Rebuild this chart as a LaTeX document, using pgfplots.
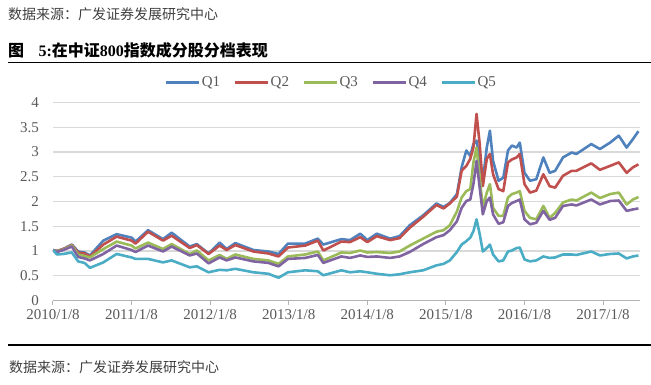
\documentclass[border=0pt]{standalone}
\usepackage{pgfplots}
\pgfplotsset{compat=1.18}
\usepackage{pgfplotstable}
\usepackage{fontspec}
\setmainfont{Liberation Serif}
\newfontfamily\cjk{Noto Sans CJK SC}
\definecolor{c1}{HTML}{4F81BD}
\definecolor{c2}{HTML}{C0504D}
\definecolor{c3}{HTML}{9BBB59}
\definecolor{c4}{HTML}{8064A2}
\definecolor{c5}{HTML}{4BACC6}
\definecolor{tk}{HTML}{595959}
\definecolor{gridc}{HTML}{D9D9D9}
\definecolor{src}{HTML}{404040}

\pgfplotstableread{
x q1 q2 q3 q4 q5
0.00 1.02 1.02 1.02 1.02 1.02
0.05 1.00 1.00 0.99 0.98 0.93
0.13 1.04 1.04 1.03 1.02 0.94
0.24 1.13 1.12 1.11 1.09 0.97
0.32 0.99 0.97 0.93 0.88 0.79
0.40 0.97 0.95 0.90 0.85 0.76
0.47 0.91 0.89 0.87 0.81 0.66
0.64 1.21 1.13 1.04 0.94 0.77
0.81 1.34 1.29 1.19 1.11 0.94
1.00 1.27 1.21 1.11 1.02 0.87
1.05 1.19 1.15 1.05 0.98 0.84
1.21 1.42 1.39 1.17 1.11 0.84
1.40 1.24 1.21 1.04 0.99 0.77
1.51 1.37 1.31 1.14 1.09 0.81
1.74 1.09 1.06 0.94 0.91 0.67
1.83 1.14 1.12 1.01 0.95 0.69
1.98 0.95 0.94 0.81 0.75 0.57
2.12 1.17 1.11 0.92 0.87 0.62
2.21 1.04 1.02 0.84 0.81 0.61
2.32 1.16 1.12 0.93 0.87 0.64
2.55 1.02 0.99 0.84 0.79 0.57
2.74 0.99 0.95 0.81 0.76 0.54
2.87 0.94 0.89 0.74 0.69 0.46
2.99 1.15 1.07 0.89 0.84 0.57
3.21 1.15 1.11 0.93 0.86 0.61
3.37 1.25 1.21 0.99 0.92 0.59
3.44 1.13 1.01 0.81 0.76 0.51
3.67 1.24 1.19 0.97 0.89 0.61
3.78 1.22 1.18 0.96 0.86 0.57
3.91 1.35 1.28 1.01 0.91 0.59
4.00 1.22 1.18 0.97 0.88 0.57
4.12 1.35 1.30 0.98 0.89 0.54
4.29 1.25 1.22 0.96 0.86 0.51
4.41 1.30 1.26 0.99 0.89 0.53
4.54 1.52 1.47 1.11 0.98 0.57
4.71 1.72 1.69 1.25 1.14 0.61
4.88 1.96 1.93 1.39 1.28 0.71
4.97 1.89 1.86 1.42 1.32 0.74
5.05 1.97 1.96 1.52 1.42 0.81
5.14 2.15 2.10 1.80 1.60 0.98
5.20 2.69 2.62 2.08 1.87 1.13
5.26 3.03 2.72 2.21 2.01 1.20
5.31 2.92 2.86 2.25 2.04 1.27
5.35 3.16 3.09 2.79 2.35 1.40
5.39 3.23 3.77 3.09 2.82 1.64
5.43 2.82 3.16 2.48 2.28 1.34
5.47 2.42 2.31 1.87 1.74 0.99
5.52 3.09 2.86 2.18 2.01 1.06
5.56 3.43 2.96 2.35 2.08 1.13
5.60 2.82 2.55 1.87 1.74 0.93
5.67 2.42 2.25 1.71 1.55 0.79
5.73 2.48 2.21 1.71 1.58 0.81
5.79 3.03 2.79 2.08 1.91 0.99
5.84 3.13 2.85 2.15 1.97 1.01
5.90 3.09 2.89 2.18 2.01 1.06
5.94 3.19 2.96 2.21 2.04 1.07
6.00 2.58 2.35 1.81 1.64 0.83
6.07 2.42 2.18 1.67 1.54 0.79
6.15 2.45 2.22 1.64 1.57 0.81
6.24 2.89 2.55 1.91 1.81 0.89
6.32 2.58 2.31 1.67 1.63 0.86
6.39 2.62 2.28 1.77 1.67 0.87
6.49 2.89 2.52 1.98 1.91 0.93
6.60 2.99 2.62 2.04 1.94 0.93
6.66 2.96 2.62 2.02 1.92 0.92
6.85 3.16 2.77 2.18 2.04 0.99
6.96 3.06 2.64 2.07 1.94 0.91
7.09 3.19 2.72 2.15 2.01 0.94
7.20 3.33 2.79 2.18 2.02 0.95
7.30 3.09 2.58 1.94 1.81 0.85
7.38 3.26 2.69 2.04 1.84 0.89
7.45 3.42 2.75 2.09 1.86 0.91
}\data

\begin{document}
\begin{tikzpicture}[x=1pt,y=1pt]
\node[anchor=west, inner sep=0pt, text=src] at (8,370) {\cjk\fontsize{14}{14}\selectfont 数据来源：广发证券发展研究中心};
\node[anchor=west, inner sep=0pt] at (8,334) {\fontsize{16}{16}\selectfont\bfseries{\cjk 图}\hspace{0.9em}5:{\cjk 在中证}800{\cjk 指数成分股分档表现}};
\draw[line width=1.5pt] (8,321.7) -- (651,321.7);
\draw[line width=1.2pt] (8,39) -- (651,39);
\node[anchor=west, inner sep=0pt, text=src] at (9,17.3) {\cjk\fontsize{14}{14}\selectfont 数据来源：广发证券发展研究中心};

\begin{axis}[
  at={(53pt,83.5pt)}, anchor=south west,
  width=587pt, height=198pt, scale only axis,
  xmin=0, xmax=7.47, ymin=0, ymax=4,
  axis x line*=bottom, axis y line*=left,
  axis line style={-},
  x axis line style={draw=black!30, line width=1pt},
  y axis line style={draw=none},
  xtick={0,1,2,3,4,5,6,7},
  xticklabels={2010/1/8,2011/1/8,2012/1/8,2013/1/8,2014/1/8,2015/1/8,2016/1/8,2017/1/8},
  ytick={0,0.5,1,1.5,2,2.5,3,3.5,4},
  xtick align=outside,
  major tick length=4pt,
  xtick style={draw=black!30, line width=1pt},
  ytick style={draw=none},
  ymajorgrids,
  grid style={draw=gridc, line width=1.2pt},
  /pgf/number format/assume math mode=true,
  ticklabel style={font=\fontsize{15}{15}\selectfont, text=tk},
  yticklabel style={anchor=east, inner sep=0pt, xshift=-14pt},
  xticklabel style={anchor=north, inner sep=0pt, yshift=-5pt},
  legend columns=5,
  legend style={draw=none, fill=none, at={(axis description cs:0.4736,1.1)}, anchor=center,
    font=\fontsize{15}{15}\selectfont, text=tk,
    /tikz/every even column/.append style={column sep=12pt},
    nodes={inner sep=1.5pt}},
  legend image code/.code={\draw[#1] (0pt,0pt) -- (33pt,0pt);},
]
\addplot[c1, line width=2.6pt, line join=round] table[x=x,y=q1] {\data};
\addlegendentry{Q1}
\addplot[c2, line width=2.6pt, line join=round] table[x=x,y=q2] {\data};
\addlegendentry{Q2}
\addplot[c3, line width=2.6pt, line join=round] table[x=x,y=q3] {\data};
\addlegendentry{Q3}
\addplot[c4, line width=2.6pt, line join=round] table[x=x,y=q4] {\data};
\addlegendentry{Q4}
\addplot[c5, line width=2.6pt, line join=round] table[x=x,y=q5] {\data};
\addlegendentry{Q5}
\end{axis}
\pgfresetboundingbox
\path[use as bounding box] (0,0) rectangle (651,384);
\end{tikzpicture}
\end{document}
